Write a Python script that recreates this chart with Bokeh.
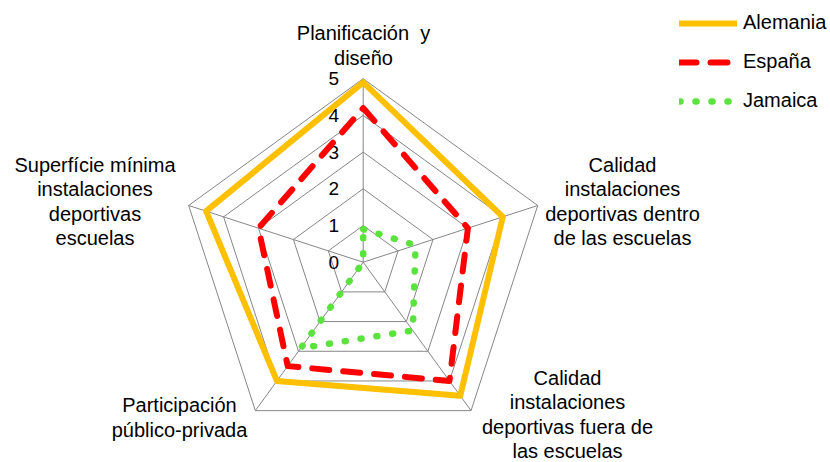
import numpy as np
from bokeh.plotting import figure
from bokeh.models import Range1d, Legend, LegendItem
from bokeh.core.properties import value
from bokeh.embed import file_html
from bokeh.resources import INLINE

# ---- data ----
categories = [
    "Planificación\u00a0 y\ndiseño",
    "Calidad\ninstalaciones\ndeportivas dentro\nde las escuelas",
    "Calidad\ninstalaciones\ndeportivas fuera de\nlas escuelas",
    "Participación\npúblico-privada",
    "Superfície mínima\ninstalaciones\ndeportivas\nescuelas",
]
alemania = [4.9, 4.0, 4.5, 4.0, 4.5]
espana = [4.2, 3.0, 4.0, 3.5, 3.0]
jamaica = [0.9, 1.5, 2.3, 2.9, 0.0]
levels = [0, 1, 2, 3, 4, 5]
series_names = ["Alemania", "España", "Jamaica"]

# ---- geometry (1 data unit = S pixels) ----
W, H = 830, 462
S = 36.7
CX, CY = 362.7, 261.7   # centre inside plot frame (px)
x0 = -CX / S
x1 = (W - CX) / S
y1 = CY / S
y0 = -(H - CY) / S

n = len(categories)
angles = np.deg2rad(90 - 72 * np.arange(n))
ux, uy = np.cos(angles), np.sin(angles)

p = figure(width=W, height=H, x_range=Range1d(x0, x1), y_range=Range1d(y0, y1),
           output_backend="svg", toolbar_location=None, min_border=0,
           x_axis_location=None, y_axis_location=None)
p.grid.visible = False
p.outline_line_color = None

GRID = "#868686"
for lv in levels[1:]:
    xs = list(ux * lv) + [ux[0] * lv]
    ys = list(uy * lv) + [uy[0] * lv]
    p.line(xs, ys, line_color=GRID, line_width=1)
top = levels[-1]
p.segment(x0=[0] * n, y0=[0] * n, x1=list(ux * top), y1=list(uy * top),
          line_color=GRID, line_width=1)

# level labels
p.text(x=[-(CX - 338.5) / S] * len(levels), y=levels, text=[str(v) for v in levels],
       text_align="right", text_baseline="middle",
       text_font=value("Liberation Sans"), text_font_size="19px", text_color="#000000")

def closed(vals):
    v = np.array(vals, dtype=float)
    xs = list(ux * v) + [ux[0] * v[0]]
    ys = list(uy * v) + [uy[0] * v[0]]
    return xs, ys

xa, ya = closed(alemania)
r_a = p.line(xa, ya, line_color="#FFC000", line_width=6, line_join="round", line_cap="round")
xe, ye = closed(espana)
r_e = p.line(xe, ye, line_color="#FF0000", line_width=6, line_dash="17 14",
             line_join="round", line_cap="round")
xj, yj = closed(jamaica)
r_j = p.line(xj, yj, line_color="#5BE33D", line_width=6.5, line_dash="1 15",
             line_join="round", line_cap="round")

# category labels (block centres in page px)
label_px = [(363, 45), (622, 201), (567, 414), (179, 417), (94.5, 201)]
lx = [(px - CX) / S for px, py in label_px]
ly = [(CY - py) / S for px, py in label_px]
p.text(x=lx, y=ly, text=categories, text_align="center", text_baseline="middle",
       text_font=value("Liberation Sans"), text_font_size="20px",
       text_line_height=1.1, text_color="#000000")

legend = Legend(items=[LegendItem(label=series_names[0], renderers=[r_a]),
                       LegendItem(label=series_names[1], renderers=[r_e]),
                       LegendItem(label=series_names[2], renderers=[r_j])],
                location=(679, 350), orientation="vertical",
                glyph_width=58, glyph_height=20, label_height=20, spacing=16,
                label_standoff=6, padding=0, margin=0,
                border_line_color=None, background_fill_alpha=0,
                label_text_font="Liberation Sans", label_text_font_size="20px",
                label_text_color="#000000")
p.add_layout(legend)

open("out.html", "w").write(file_html(p, INLINE))
